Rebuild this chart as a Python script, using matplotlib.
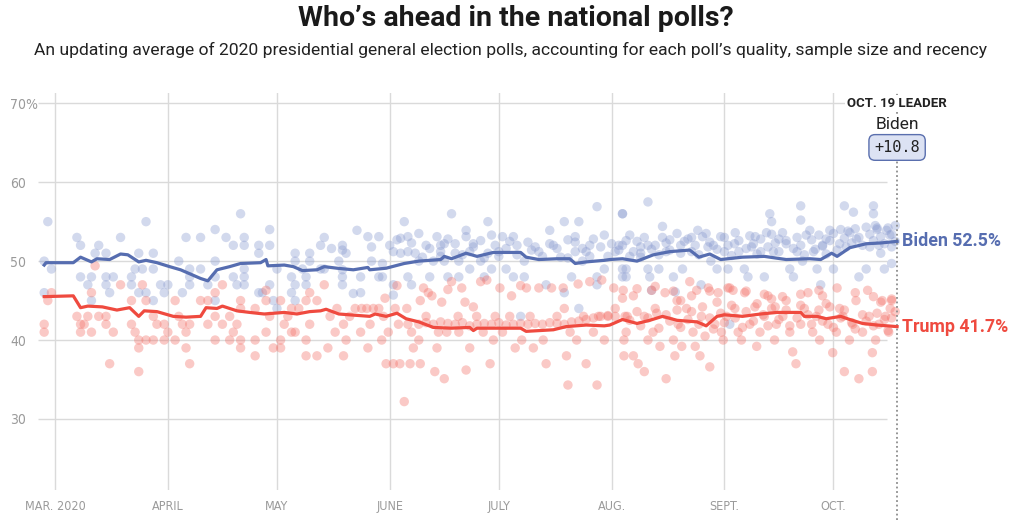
import matplotlib
matplotlib.use("Agg")
import matplotlib.pyplot as plt

# Days are counted from March 1, 2020 (day 0). Values in percent.
month_ticks = [0, 31, 61, 92, 122, 153, 184, 214]
month_labels = ["MAR. 2020", "APRIL", "MAY", "JUNE", "JULY", "AUG.", "SEPT.", "OCT."]
y_ticks = [30, 40, 50, 60, 70]
y_labels = ["30", "40", "50", "60", "70%"]

# polling average
biden_avg = [(-3, 49.5), (-2.5, 49.8), (5, 49.8), (7, 50.5), (10, 49.9), (11.5, 50.3),
             (15, 50.2), (18, 50.9), (20, 50.8), (23, 49.9), (25, 50.1), (28, 49.8),
             (31.5, 49.3), (34.5, 48.9), (37, 48.4), (40, 47.8), (42, 47.5), (44.5, 48.9),
             (48, 49.3), (51, 49.7), (56.5, 49.8), (58, 50.2), (58.5, 49.4), (63, 49.5),
             (65.5, 49.3), (68, 48.8), (72, 48.9), (74, 49.3), (77.5, 49.1), (82, 48.9),
             (86, 49.2), (86.5, 48.9), (91, 49.1), (96, 49.7), (100, 50.0), (106, 50.2),
             (107, 50.6), (109, 50.3), (113, 51.0), (116, 50.6), (120.5, 51.1), (128, 51.1),
             (129.5, 50.5), (133, 50.2), (138, 50.3), (141.5, 50.3), (143, 49.7), (146, 49.9),
             (151, 50.1), (152.5, 50.2), (156, 50.3), (160, 50.0), (164.5, 50.8), (169, 51.2),
             (174.5, 51.4), (177, 50.5), (180, 50.9), (183, 50.2), (189, 50.5), (195, 50.6),
             (201, 50.2), (207.5, 50.3), (210.5, 50.2), (213.5, 51.0), (215, 50.6),
             (218.5, 51.7), (223, 52.2), (227, 52.3), (231.5, 52.5)]

trump_avg = [(-3, 45.5), (5, 45.6), (7, 44.1), (9, 44.3), (13, 44.2), (17, 43.8), (20.5, 44.1),
             (23, 43.0), (24.5, 43.7), (28, 43.6), (32.5, 43.0), (36, 42.9), (40, 43.0),
             (41.5, 44.1), (44.5, 44.0), (46, 44.3), (50, 43.7), (53.5, 43.5), (57.5, 43.3),
             (63, 43.5), (66.5, 43.3), (70, 43.6), (73, 43.7), (74.5, 43.9), (78, 43.3),
             (86.5, 43.0), (88, 43.3), (91, 43.0), (94, 43.4), (96.5, 42.7), (100, 42.3),
             (104, 41.6), (109, 41.5), (114, 41.6), (115, 41.2), (116, 41.5), (128, 41.5),
             (129.5, 41.1), (137, 41.3), (140.5, 41.7), (146, 41.9), (151, 41.8), (152.5, 41.9),
             (156, 42.6), (160, 42.1), (163.5, 42.5), (167, 43.0), (171, 42.5), (176.5, 42.3),
             (179, 41.8), (182, 43.0), (184, 43.2), (189, 43.0), (194, 43.3), (198.5, 43.5),
             (205, 43.5), (206, 43.0), (209.5, 43.0), (212, 42.7), (216, 43.0), (218.5, 42.6),
             (222, 42.1), (226, 41.9), (231.5, 41.7)]

# individual polls, Biden
biden_polls_spring = [(-3, 50), (-2, 55), (-1, 49), (-3, 46), (6, 53), (7, 52), (7, 48), (9, 47),
                      (10, 48), (10, 45), (12, 52), (11, 51), (14, 51), (14, 48), (14, 47), (15, 46),
                      (16, 48), (18, 53), (21, 48), (21, 47), (22, 49), (23, 51), (23, 46), (24, 49),
                      (25, 55), (25, 46), (27, 51), (27, 49), (27, 45), (29, 47), (30, 46),
                      (31, 47), (34, 50), (35, 46), (36, 53), (37, 49), (37, 48), (37, 47), (40, 53),
                      (40, 49), (42, 47), (44, 54), (44, 48), (44, 45), (44, 50), (47, 53), (49, 52),
                      (49, 48), (50, 47), (51, 56), (52, 53), (52, 52), (52, 49), (52, 48), (52, 47),
                      (56, 52), (56, 51), (56, 46), (57, 46), (59, 54), (59, 52), (59, 47), (60, 45),
                      (61, 44), (61, 49), (65, 48), (65, 46), (66, 51), (66, 50), (66, 47), (66, 45),
                      (68, 49), (69, 48), (69, 47), (70, 51), (70, 50), (73, 52), (73, 49), (74, 53),
                      (74, 49)]
biden_polls_summer = [(76, 51.6), (79, 52), (79, 51.4), (80, 51), (78, 50), (79, 48), (79, 47),
                      (79, 48.9), (82, 45.9), (83, 53.9), (84, 48), (84, 46), (86, 53.1), (87, 50),
                      (89, 53.1), (87, 51.8), (89, 48), (90, 49.7), (90, 48), (92, 52), (93, 51.2),
                      (93, 47), (93, 45.7), (94, 52.7), (95, 52.9), (96, 55), (97, 53.1), (97, 51.2),
                      (97, 48), (98, 47), (99, 51), (100, 53.5), (100, 50), (102, 52), (103, 48),
                      (104, 50), (105, 53.1), (106, 52), (106, 51.2), (107, 52.2), (107, 50), (108, 48),
                      (109, 56), (110, 51), (111, 48), (111, 50), (113, 53.1), (113, 53.9), (114, 51.2),
                      (114, 49), (115, 52.2), (117, 50), (118, 48), (119, 51), (119, 55), (120, 53.3),
                      (120, 49), (122, 51.2), (123, 53.1), (124, 49), (126, 53.1), (126, 48), (127, 52),
                      (128, 43), (129, 50), (129, 48), (131, 51.4), (133, 51.2), (135, 47), (136, 53.9),
                      (137, 52), (139, 50.5), (140, 55), (140, 46), (141, 52.7), (142, 48), (143, 51.2),
                      (143, 53.1), (144, 44), (144, 55), (145, 50), (146, 51.2), (147, 52), (149, 56.9),
                      (149, 48), (149, 47), (151, 53.3), (151, 49), (154, 51.2), (155, 52), (156, 56),
                      (156, 49), (156, 48),
                      (95, 51), (98, 52.3), (101, 50.5), (103, 51.6), (106, 50.6), (108, 52.8),
                      (110, 52.2), (112, 50.8), (115, 51.8), (117, 52.6), (118, 50.4), (121, 52),
                      (122, 50.6), (124, 51.6), (125, 52.5), (127, 50.8), (130, 52.4), (132, 51.8),
                      (134, 50.6), (136, 52.2), (138, 51.6), (141, 50.4), (143, 52.4), (145, 51.6),
                      (147, 50.6), (148, 52.8), (150, 51.8), (152, 50.6), (153, 52.2), (155, 51.4),
                      (157, 52.6), (158, 50.6)]
biden_polls_fall = [(156, 56), (158, 53.3), (156, 52), (159, 51.2), (157, 49), (157, 48), (161, 50.5),
                    (161, 51.8), (163, 57.5), (163, 49), (163.5, 48), (164, 46.3), (165, 52), (166, 49),
                    (167, 54.4), (168, 51.2), (169, 52.7), (170, 48), (170.5, 46.1), (172, 52),
                    (172.5, 49), (174, 52.8), (175, 51.2), (176.7, 53.9), (177.6, 47), (178, 53.1),
                    (179.5, 51.8), (180.3, 50), (181, 52), (182, 49), (183, 53.1), (184, 51.2),
                    (185, 49), (185.5, 42), (186.8, 52.2), (188, 51.2), (189.5, 49), (190.5, 48),
                    (191.5, 51.8), (192.5, 53.1), (194, 51.2), (195, 48), (195.6, 53.6), (196.5, 56),
                    (197, 55), (197.5, 51.2), (199, 52.8), (201, 52.2), (202, 49), (203, 48),
                    (204, 51.2), (205, 57), (205, 55.2), (205.5, 50), (206.5, 53.3), (207.5, 53.9),
                    (208.5, 51.2), (209.5, 49), (210.5, 47), (211, 52), (212, 52.8), (213, 53.9),
                    (214, 49), (215.7, 52.2), (217, 57), (217.5, 51.8), (218.5, 53.6), (219.5, 56.2),
                    (220.3, 52.8), (221, 48), (223, 49), (224, 51.8), (225, 57), (225, 56),
                    (225.5, 54.5), (226, 54.2), (226.5, 52), (227, 51), (228, 49), (228.6, 53.9),
                    (229.5, 53.3), (230, 51.8), (230, 49.7),
                    (160, 52.5), (161, 51), (162, 53), (163, 52), (164, 51.5), (166, 50.8), (167, 53),
                    (168, 52.3), (169, 51.4), (171, 53.5), (172, 51), (173, 52.5), (175, 53), (176, 52),
                    (177, 50.8), (179, 53.5), (180, 52.4), (182, 51.5), (184, 53), (185, 52),
                    (186, 50.7), (187, 53.6), (188, 52.6), (190, 51.6), (191, 53.2), (192, 52.2),
                    (193, 50.9), (194, 52.8), (196, 51.8), (197, 53.4), (198, 52.3), (199, 51.2),
                    (200, 53.6), (201, 52.6), (203, 51.6), (204, 53), (205, 52), (206, 50.8),
                    (208, 52.7), (209, 51.5), (210, 53.3), (211, 51.9), (212, 50.9), (213, 52.6),
                    (214, 53.5), (215, 51.4), (216, 54), (217, 52.9), (218, 53.8), (219, 52.3),
                    (220, 54.1), (221, 53), (222, 52), (223, 54.3), (224, 53.4), (225, 52.6),
                    (226, 54), (227, 53.1), (228, 52.2), (229, 54.2), (230, 53.4), (231, 52.5),
                    (231, 54.5)]

# individual polls, Trump
trump_polls_spring = [(-3, 42), (-3, 41), (-2, 45), (-1, 46), (6, 43), (7, 41), (7, 42), (8, 42),
                      (9, 43), (10, 46), (10, 41), (11, 49.4), (12, 43), (14, 43), (14, 42), (15, 37),
                      (16, 41), (18, 47), (21, 45), (21, 42), (22, 41), (23, 40), (23, 39), (23, 36),
                      (24, 47), (25, 45), (25, 40), (27, 43), (27, 40), (28, 42), (30, 42), (30, 40),
                      (31, 41), (33, 45), (33, 40), (34, 43), (35, 42), (36, 41), (36, 39), (37, 42),
                      (37, 37), (40, 45), (42, 45), (42, 42), (44, 46), (44, 43), (44, 40), (46, 47),
                      (46, 42), (48, 43), (48, 40), (49, 41), (50, 42), (51, 45), (51, 44), (51, 40),
                      (51, 39), (55, 44), (55, 40), (55, 38), (58, 46.3), (58, 45), (58, 41), (59, 43),
                      (60, 39), (62, 45), (62, 40), (62, 39), (63, 42), (64, 43), (65, 44), (65, 41),
                      (66, 41), (67, 44), (69, 45), (69, 40), (69, 38), (70, 42), (70, 46), (72, 45),
                      (72, 38), (74, 47), (75, 39)]
trump_polls_summer = [(75.6, 43), (77.5, 44), (77, 41), (79.3, 42), (79.3, 38), (80, 40), (81, 43),
                      (82.5, 44), (84, 41), (84.3, 44), (85.7, 44), (86, 39), (86.6, 42), (87.5, 44),
                      (89, 44), (89.8, 40), (90.3, 43), (90.7, 45.3), (91, 37), (91.6, 41), (93, 37),
                      (93.5, 44), (94, 46.9), (94.4, 42), (94.8, 37), (96, 32.2), (96.7, 44), (97, 42),
                      (97.6, 37), (98, 41), (98.5, 39), (100, 40), (100.4, 37), (100.4, 45),
                      (101.3, 46.6), (102, 43), (102.6, 46), (103.6, 45.6), (104.4, 36), (105, 39),
                      (105.4, 41), (106.3, 44.8), (107, 35.1), (107.7, 41), (108, 46.4), (109, 47.4),
                      (110.8, 43), (111, 41), (111.8, 46.6), (112.7, 44.8), (113, 36.2), (114, 39),
                      (115, 44.2), (115.9, 43), (117, 47.4), (117.7, 41), (118.7, 47.6), (119.6, 37),
                      (120.5, 40), (121, 43), (122.3, 46.6), (123, 41), (125, 43), (125.5, 45.6),
                      (126.5, 39), (128, 46.9), (128.3, 40), (129.6, 46.6), (130.6, 43), (131.5, 39),
                      (133, 46.6), (134.2, 40), (135, 37), (136.5, 46.6), (138, 43), (139.7, 46.6),
                      (140, 44), (140.6, 38), (141, 34.3), (141.6, 41), (143.4, 40), (143.8, 47.1),
                      (145.3, 43), (146, 37), (147, 47.4), (148, 41), (149, 34.3), (149.4, 43),
                      (150.3, 47.6), (151, 40), (152, 43), (153.6, 46.6), (154, 44), (156, 45.3),
                      (156.4, 40), (156.4, 38), (157.3, 43),
                      (100, 42), (102, 42.2), (104, 42), (106, 42.3), (108, 42.1), (110, 42),
                      (112, 42.2), (114, 41.8), (116, 42), (118, 42.1), (120, 42), (122, 42.2),
                      (124, 41.9), (126, 42), (128, 42.1), (130, 42), (132, 42.1), (134, 42),
                      (136, 42.2), (138, 42.1), (140, 42), (142, 42.3), (144, 42.4), (146, 42.6),
                      (148, 42.8), (150, 43), (152, 43.1), (154, 43)]
trump_polls_fall = [(156.2, 46.3), (156.7, 43), (157, 41), (159, 45.6), (159, 38), (160.3, 37),
                    (162, 43), (162, 36), (163, 40), (164, 46.3), (164.4, 41), (165.4, 43.4),
                    (166.3, 39.2), (167.7, 46), (168, 35.1), (170, 40), (170.4, 38), (171, 45),
                    (171.3, 42), (172.3, 39.2), (173.6, 44), (174.5, 47.4), (175.4, 41), (176, 39.2),
                    (176.4, 46.3), (177.3, 38), (177.7, 43), (178.7, 40.5), (179.6, 46.6), (180, 36.6),
                    (181.4, 42), (182.3, 46), (183.2, 41), (183.7, 40), (184.6, 43), (185.5, 46.6),
                    (186.4, 46.3), (186.9, 44), (187.8, 41), (188.7, 40), (189.6, 46), (191, 42),
                    (192.4, 44.2), (192.9, 39.2), (193.8, 41), (194.7, 43.2), (196, 45.6), (197, 44),
                    (197.8, 40), (198.3, 42), (200.1, 43), (201, 45), (202, 41), (202.8, 38.5),
                    (203.7, 37), (205, 42), (206, 44), (207, 46), (208.3, 41), (209.3, 43), (210.2, 40),
                    (211, 45.6), (212.5, 42), (213.8, 38.4), (214.8, 41), (215.7, 44), (216.6, 43),
                    (217, 36), (218.4, 40), (219.3, 42), (220.2, 45), (221, 35.1), (222, 41),
                    (223.4, 46.3), (223.8, 43), (224.7, 38.4), (224.7, 36), (225.6, 40), (226.5, 42),
                    (227.4, 45), (228.3, 43), (229.2, 41), (229.6, 44), (230, 45),
                    (158, 42.5), (160, 43.6), (161, 41.8), (163, 42.8), (165, 44), (166, 41.5),
                    (168, 43.2), (169, 42.4), (171, 43.8), (172, 41.6), (174, 42.6), (175, 43.6),
                    (177, 42), (178, 44.2), (180, 42.8), (181, 41.4), (183, 43.4), (184, 42.2),
                    (186, 44.4), (187, 42.8), (189, 41.6), (190, 43.6), (192, 42.4), (193, 44.6),
                    (195, 43), (196, 41.8), (198, 44.2), (199, 42.6), (201, 43.8), (202, 41.8),
                    (204, 42.8), (205, 44.4), (207, 43.2), (208, 42), (210, 43.8), (211, 42.4),
                    (213, 44.2), (214, 41.6), (216, 42.8), (217, 43.8), (219, 42.2), (220, 41.4),
                    (222, 43.2), (223, 42.4), (225, 41.8), (226, 43.4), (228, 42.6), (229, 41.2),
                    (230, 42.8), (231, 43.6),
                    (160, 46.5), (165, 46.8), (170, 46.2), (175, 45.6), (180, 46.2), (185, 46.6),
                    (190, 46.2), (195, 45.8), (200, 45.5), (205, 45.8), (210, 46.3), (215, 46.6),
                    (220, 46), (225, 45.5), (230, 45.2), (172, 45), (182, 44.8), (197, 45.2),
                    (212, 44.6), (227, 44.8)]

leader_day = 231.5
leader_name = "Biden"
leader_margin = "+10.8"

BLUE = "#566db0"
RED = "#ef4a3f"
GRID = "#dadada"
TICK = "#9a9a9a"

fig = plt.figure(figsize=(10.32, 5.32), dpi=100)
ax = fig.add_axes([38 / 1032, 42 / 532, 862 / 1032, 397 / 532])
ax.set_xlim(-4.7, 232.3)
ax.set_ylim(21, 71.3)

for pts, col, a in [(biden_polls_spring + biden_polls_summer + biden_polls_fall, "#8a9bd0", 0.38),
                    (trump_polls_spring + trump_polls_summer + trump_polls_fall, "#f4736a", 0.38)]:
    ax.scatter([p[0] for p in pts], [p[1] for p in pts], s=46, color=col, alpha=a,
               edgecolors="none", zorder=2)

ax.plot([p[0] for p in biden_avg], [p[1] for p in biden_avg], color=BLUE, lw=2.3, zorder=4)
ax.plot([p[0] for p in trump_avg], [p[1] for p in trump_avg], color=RED, lw=2.3, zorder=4)

# grid
ax.hlines(y_ticks, -4.7, 228.8, color=GRID, lw=1, zorder=1)
for d in month_ticks:
    ax.axvline(d, color=GRID, lw=1, zorder=1)
for s in ax.spines.values():
    s.set_visible(False)

ax.set_xticks(month_ticks)
ax.set_xticklabels(month_labels, family="DejaVu Sans", stretch="condensed", fontsize=9,
                   color=TICK)
ax.tick_params(axis="x", length=0, pad=7)
ax.set_yticks(y_ticks)
ax.set_yticklabels(y_labels, family="DejaVu Sans", stretch="condensed", fontsize=10, color=TICK)
ax.tick_params(axis="y", length=0, pad=20)
for lab in ax.get_yticklabels():
    lab.set_horizontalalignment("left")

# leader marker
ax.plot([leader_day, leader_day], [17.2, 71.3], color="#8c8c8c", lw=1.3, ls=(0, (1, 1.5)),
        clip_on=False, zorder=3)
ax.text(leader_day, 70, "OCT. 19 LEADER", ha="center", va="center", fontsize=9.5,
        fontweight="bold", family="Roboto", color="#222222",
        bbox=dict(facecolor="white", edgecolor="none", pad=1.5), zorder=6)
ax.text(leader_day, 67.3, leader_name, ha="center", va="center", fontsize=12.5, family="Roboto",
        color="#222222", bbox=dict(facecolor="white", edgecolor="none", pad=0.5), zorder=6)
ax.text(leader_day, 64.4, leader_margin, ha="center", va="center", fontsize=11,
        family="DejaVu Sans Mono", color="#222222",
        bbox=dict(boxstyle="round,pad=0.35,rounding_size=0.4", facecolor="#dce2f3",
                  edgecolor="#5a6fae", lw=1), zorder=6)

# end labels
ax.text(232.8, biden_avg[-1][1], f"Biden {biden_avg[-1][1]:.1f}%", ha="left", va="center",
        fontsize=12.8, fontweight="bold", family="Roboto", color=BLUE, clip_on=False)
ax.text(232.8, trump_avg[-1][1], f"Trump {trump_avg[-1][1]:.1f}%", ha="left", va="center",
        fontsize=12.8, fontweight="bold", family="Roboto", color=RED, clip_on=False)

fig.text(0.5, 1 - 18 / 532, "Who’s ahead in the national polls?", ha="center", va="center",
         fontsize=20.5, fontweight="bold", family="Roboto", color="#1a1a1a")
fig.text(510 / 1032, 1 - 50 / 532,
         "An updating average of 2020 presidential general election polls, accounting for each "
         "poll’s quality, sample size and recency",
         ha="center", va="center", fontsize=12.6, family="Roboto", color="#222222")

fig.savefig("out.png", dpi=100)
